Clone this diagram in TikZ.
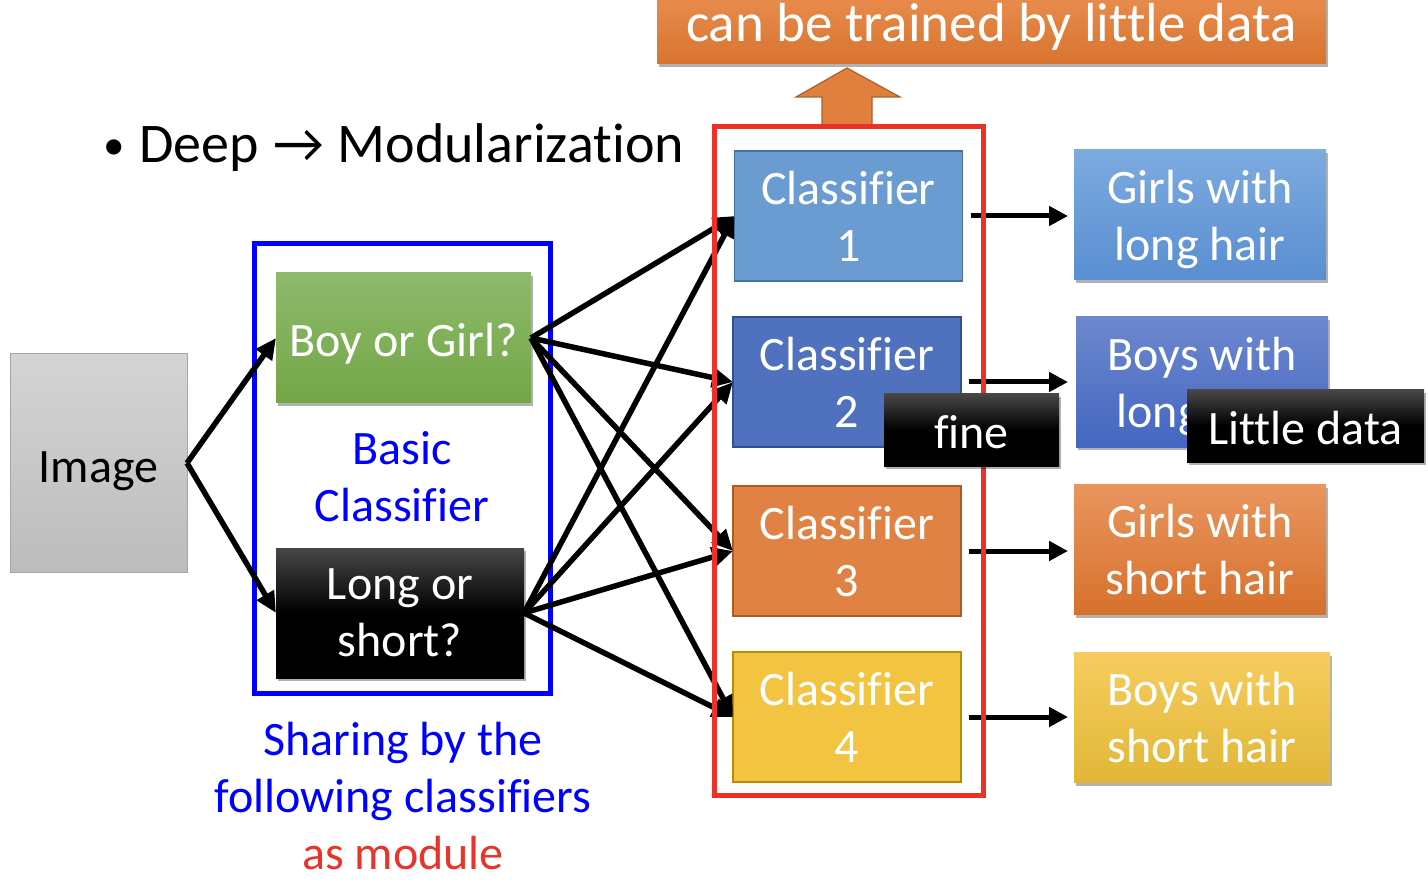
\documentclass[tikz,border=0pt]{standalone}
\usepackage{fontspec}
\setmainfont{Carlito}[Ligatures=NoCommon]
\usetikzlibrary{shadows,arrows.meta,calc}
\newcommand\myfs{\fontsize{48}{57}\selectfont}
\newcommand\mybigfs{\fontsize{55}{66}\selectfont}
\newcommand\mytitlefs{\fontsize{56}{66}\selectfont}
\newcommand\nodp[1]{\raisebox{0pt}[\height][0pt]{#1}}
\definecolor{imgtop}{HTML}{D4D4D4}
\definecolor{imgbot}{HTML}{BCBCBC}
\definecolor{imgbd}{HTML}{A5A5A5}
\definecolor{grtop}{HTML}{8EBA6C}
\definecolor{grbot}{HTML}{73A646}
\definecolor{cone}{HTML}{6A9BD1}
\definecolor{conebd}{HTML}{41719C}
\definecolor{ctwo}{HTML}{4F71BE}
\definecolor{ctwobd}{HTML}{2F528F}
\definecolor{cthree}{HTML}{DF8244}
\definecolor{cthreebd}{HTML}{AE5A21}
\definecolor{cfour}{HTML}{F3C342}
\definecolor{cfourbd}{HTML}{BC8C00}
\definecolor{oonetop}{HTML}{7CABDF}
\definecolor{oonebot}{HTML}{5A8ED1}
\definecolor{otwotop}{HTML}{6D88CE}
\definecolor{otwobot}{HTML}{4466C0}
\definecolor{othreetop}{HTML}{E9955E}
\definecolor{othreebot}{HTML}{D6712C}
\definecolor{ofourtop}{HTML}{F7CC5E}
\definecolor{ofourbot}{HTML}{E0B738}
\definecolor{toptop}{HTML}{E98E50}
\definecolor{topbot}{HTML}{D8742F}
\definecolor{arrowfill}{HTML}{E0803F}
\definecolor{arrowbd}{HTML}{AE5E28}
\definecolor{redframe}{HTML}{EC3126}
\definecolor{blueframe}{HTML}{0000FF}
\definecolor{moduletext}{HTML}{E8352B}
\begin{document}
\begin{tikzpicture}[x=1pt,y=-1pt,
  every node/.style={inner sep=0pt, outer sep=0pt},
  bx/.style={rectangle, align=center, text=white, font=\myfs},
  single/.style={text height=46pt, text depth=8pt},
  shad/.style={drop shadow={shadow xshift=2pt, shadow yshift=-3pt, opacity=0.3, fill=black}},
  clsbox/.style={bx, minimum width=228pt, minimum height=130pt, line width=1.5pt},
  outbox/.style={bx, shad, minimum width=252pt, minimum height=130pt},
  blackbox/.style={bx, shad, top color=black!72, bottom color=black, middle color=black},
  conn/.style={line width=5.5pt, -{Triangle[length=21pt,width=19pt]}},
  rarrow/.style={line width=5pt, -{Triangle[length=19pt,width=19pt]}},
  frame/.style={line width=5pt},
]
\useasboundingbox (0,0) rectangle (1428,885);

% top box and block arrow
\node[bx, shad, font=\mybigfs, minimum width=669pt, minimum height=74pt,
  top color=toptop, bottom color=topbot, text height=40pt, text depth=10pt] (top) at (991.5,27) {can be trained by little data};
\filldraw[fill=arrowfill, draw=arrowbd, line width=1.2pt]
  (822,126) -- (822,97) -- (796,97) -- (847,68) -- (900,97) -- (872,97) -- (872,126) -- cycle;

% title
\node[anchor=base west, font=\mytitlefs] (title) at (103,163) {\raisebox{3pt}{\fontsize{43}{43}\selectfont •}\hskip 15pt Deep\hskip 15pt →\hskip 13pt Modularization};

% frames
\draw[frame, blueframe] (254,244) rectangle (550,693);

% left boxes
\node[bx, single, text=black, minimum width=177pt, minimum height=218pt, draw=imgbd, line width=1pt,
  top color=imgtop, bottom color=imgbot] (img) at (98.5,463) {Image};
\node[bx, single, shad, minimum width=255pt, minimum height=130pt, top color=grtop, bottom color=grbot] (bg) at (403.5,338) {Boy or Girl?};
\node[blackbox, minimum width=248pt, minimum height=130pt] (ls) at (400,613) {Long or\\short?};
\node[bx, text=blueframe] (basic) at (402,477) {Basic\\Classifier};
\node[bx, text=blueframe] (share) at (403,796) {Sharing by the\\following classifiers\\\textcolor{moduletext}{as module}};

% classifiers
\node[clsbox, fill=cone, draw=conebd] (c1) at (848.5,216) {Classifier\\1};
\node[clsbox, fill=ctwo, draw=ctwobd] (c2) at (847,382) {Classifier\\2};
\node[clsbox, fill=cthree, draw=cthreebd] (c3) at (847,551) {Classifier\\3};
\node[clsbox, fill=cfour, draw=cfourbd] (c4) at (847,717) {Classifier\\4};

% outputs
\node[outbox, top color=oonetop, bottom color=oonebot] (o1) at (1200,215) {Girls with\\\nodp{long hair}};
\node[outbox, top color=otwotop, bottom color=otwobot] (o2) at (1202,382) {Boys with\\\nodp{long hair}};
\node[outbox, top color=othreetop, bottom color=othreebot] (o3) at (1200,549.5) {Girls with\\short hair};
\node[outbox, top color=ofourtop, bottom color=ofourbot, minimum width=256pt] (o4) at (1202,717.5) {Boys with\\short hair};

% connectors
\draw[conn] (img.east) -- (bg.west);
\draw[conn] (img.east) -- (ls.west);
\foreach \c in {c1,c2,c3,c4}{
  \draw[conn] (bg.east) -- (\c.west);
  \draw[conn] (ls.east) -- (\c.west);
}
\draw[rarrow, shorten <=8pt, shorten >=6pt] (c1.east) -- (c1.east -| o1.west);
\draw[rarrow, shorten <=8pt, shorten >=8pt] (c2.east) -- (c2.east -| o2.west);
\draw[rarrow, shorten <=8pt, shorten >=6pt] (c3.east) -- (c3.east -| o3.west);
\draw[rarrow, shorten <=8pt, shorten >=6pt] (c4.east) -- (c4.east -| o4.west);

\draw[frame, redframe] (714,127) rectangle (983,795);

% overlay labels
\node[blackbox, single, minimum width=175pt, minimum height=72pt] (fine) at (971.5,430) {fine};
\node[blackbox, single, minimum width=237pt, minimum height=72pt] (little) at (1305.5,426) {Little data};
\end{tikzpicture}
\end{document}
